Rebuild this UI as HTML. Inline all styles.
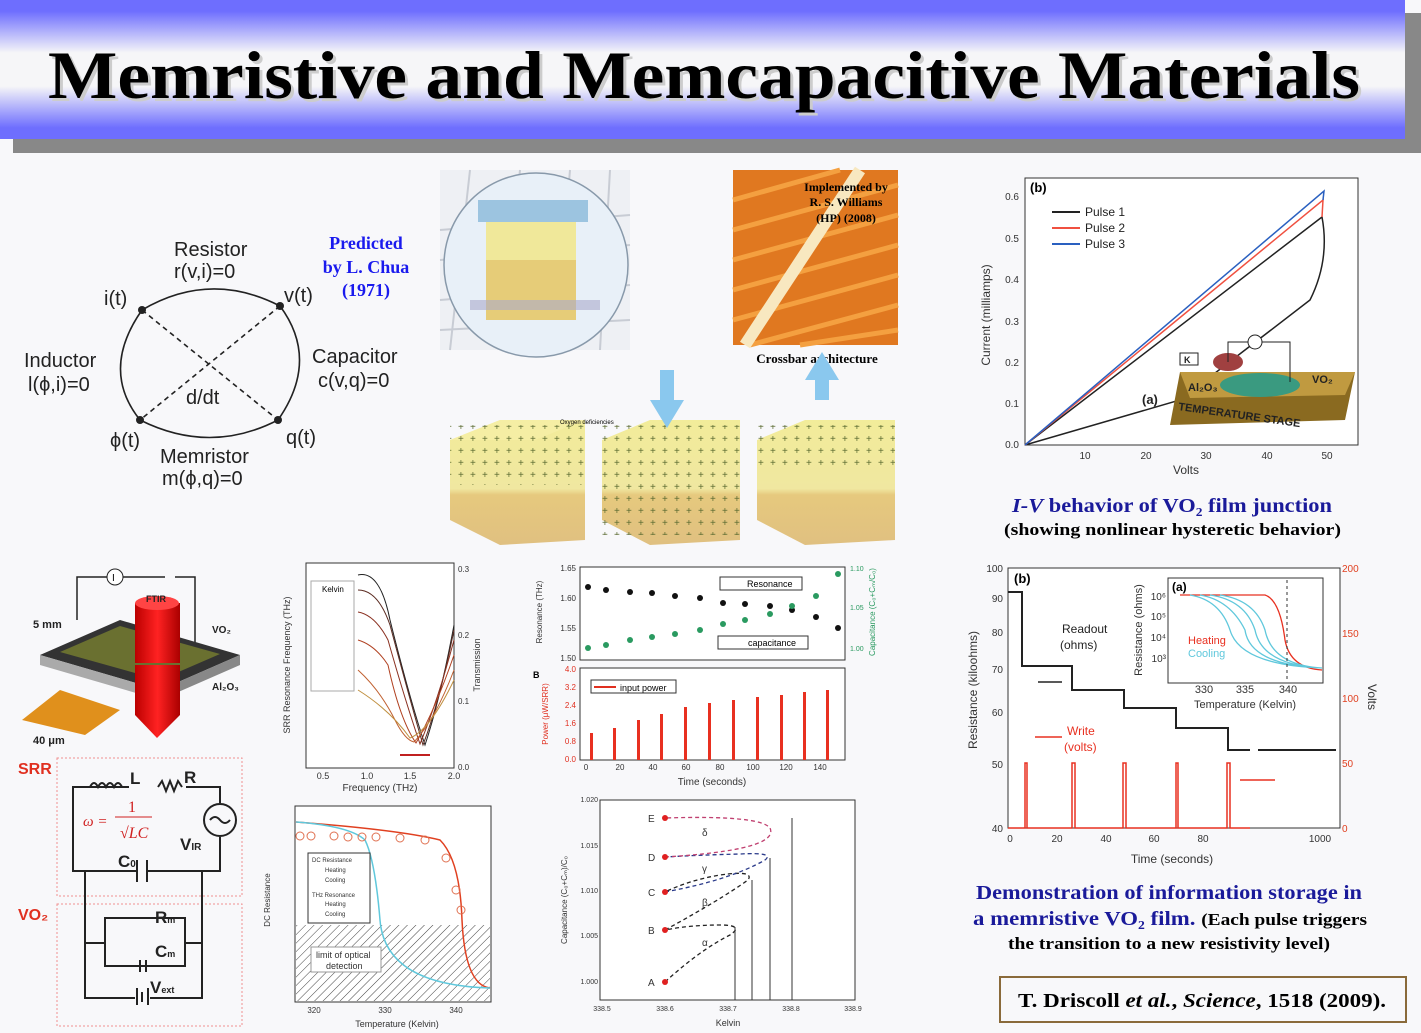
<!DOCTYPE html>
<html><head><meta charset="utf-8"><style>
html,body{margin:0;padding:0;background:#f8f8fa;}
svg{display:block;}
text{font-family:"Liberation Sans",sans-serif;}
.s{font-family:"Liberation Serif",serif;}
</style></head><body>
<svg width="1421" height="1033" viewBox="0 0 1421 1033" xmlns="http://www.w3.org/2000/svg">
<defs>
<linearGradient id="tb" x1="0" y1="0" x2="0" y2="1">
<stop offset="0" stop-color="#6e6efe"/><stop offset="0.08" stop-color="#6e6efe"/>
<stop offset="0.38" stop-color="#f6f6f8"/><stop offset="0.62" stop-color="#f6f6f8"/>
<stop offset="0.92" stop-color="#6e6efe"/><stop offset="1" stop-color="#6e6efe"/></linearGradient>
<linearGradient id="cube" x1="0" y1="0" x2="0" y2="1"><stop offset="0" stop-color="#f2ec9a"/><stop offset="0.55" stop-color="#f0e7a0"/><stop offset="0.6" stop-color="#e6c97e"/><stop offset="1" stop-color="#e0c080"/></linearGradient>
<linearGradient id="red" x1="0" y1="0" x2="1" y2="0"><stop offset="0" stop-color="#b00"/><stop offset="0.5" stop-color="#f22"/><stop offset="1" stop-color="#a00"/></linearGradient>
<pattern id="hatch" width="6" height="6" patternUnits="userSpaceOnUse" patternTransform="rotate(45)"><line x1="0" y1="0" x2="0" y2="6" stroke="#444" stroke-width="1"/></pattern>
<pattern id="plus" width="12" height="12" patternUnits="userSpaceOnUse"><text x="2" y="10" font-size="10" fill="#5a6a30">+</text></pattern>
</defs>
<!-- title -->
<rect x="13" y="139" width="1408" height="14" fill="#888"/>
<rect x="1405" y="13" width="16" height="140" fill="#888"/>
<rect x="0" y="0" width="1405" height="139" fill="url(#tb)"/>
<text x="48" y="98" textLength="1312" lengthAdjust="spacingAndGlyphs" class="s" font-size="68" font-weight="bold" fill="#ccc" transform="translate(3,3)">Memristive and Memcapacitive Materials</text>
<text x="48" y="98" textLength="1312" lengthAdjust="spacingAndGlyphs" class="s" font-size="68" font-weight="bold" fill="#000">Memristive and Memcapacitive Materials</text>

<!-- Chua diagram -->
<g font-size="20" fill="#222">
<text x="174" y="256">Resistor</text><text x="174" y="278">r(v,i)=0</text>
<text x="104" y="305">i(t)</text><text x="284" y="302">v(t)</text>
<text x="24" y="367">Inductor</text><text x="28" y="391">l(ϕ,i)=0</text>
<text x="312" y="363">Capacitor</text><text x="318" y="387">c(v,q)=0</text>
<text x="186" y="404">d/dt</text>
<text x="110" y="447">ϕ(t)</text><text x="286" y="444">q(t)</text>
<text x="160" y="463">Memristor</text><text x="162" y="485">m(ϕ,q)=0</text>
</g>
<g fill="none" stroke="#222" stroke-width="1.6">
<path d="M142 310 Q210 270 280 306"/><path d="M142 310 Q100 370 140 420"/><path d="M280 306 Q320 360 278 420"/><path d="M140 420 Q210 455 278 420"/>
<path d="M142 310 L278 420 M280 306 L140 420" stroke-dasharray="5,4"/></g>
<g fill="#222"><circle cx="142" cy="310" r="4"/><circle cx="280" cy="306" r="4"/><circle cx="140" cy="420" r="4"/><circle cx="278" cy="420" r="4"/></g>
<g class="s" font-size="18" font-weight="bold" fill="#1a1aee" text-anchor="middle">
<text x="366" y="249" class="s">Predicted</text><text x="366" y="273" class="s">by L. Chua</text><text x="366" y="296" class="s">(1971)</text></g>

<!-- crossbar image -->
<rect x="440" y="170" width="190" height="180" fill="#eef0f4"/>
<g stroke="#c8ccd4" stroke-width="2"><path d="M440 230 L630 215 M440 260 L630 245 M440 300 L630 285 M440 330 L630 320 M470 170 L450 350 M520 170 L500 350 M570 170 L555 350 M610 170 L600 350"/></g>
<circle cx="536" cy="265" r="92" fill="#e8f0f8" stroke="#89a" stroke-width="1.5"/>
<rect x="486" y="260" width="90" height="60" fill="#e6cc78"/>
<rect x="486" y="220" width="90" height="40" fill="#f0e89a"/>
<rect x="478" y="200" width="110" height="22" fill="#9cc4e0"/>
<rect x="470" y="300" width="130" height="10" fill="#aac" opacity="0.6"/>

<!-- orange image -->
<rect x="733" y="170" width="165" height="175" fill="#e07820"/>
<g stroke="#f4a040" stroke-width="5"><path d="M733 200 L840 170 M733 230 L898 185 M733 260 L898 215 M733 290 L898 245 M733 320 L898 275 M750 345 L898 305 M800 345 L898 330"/></g>
<path d="M860 170 L745 345" stroke="#f8e8c0" stroke-width="12"/>
<g class="s" font-size="12" font-weight="bold" fill="#000" text-anchor="middle">
<text x="846" y="191" class="s">Implemented by</text><text x="846" y="206" class="s">R. S. Williams</text><text x="846" y="222" class="s">(HP) (2008)</text>
<text x="817" y="363" class="s" font-size="13">Crossbar architecture</text></g>

<!-- cubes -->
<g>
<polygon points="450,440 500,420 585,420 585,540 500,545 450,520" fill="url(#cube)"/>
<polygon points="450,440 500,420 585,420 535,440" fill="#f6f0a8" opacity="0.7"/>
<rect x="450" y="425" width="135" height="60" fill="url(#plus)"/>
<polygon points="602,440 650,420 740,420 740,540 650,545 602,520" fill="url(#cube)"/>
<rect x="602" y="425" width="138" height="110" fill="url(#plus)"/>
<polygon points="757,440 805,420 895,420 895,540 805,545 757,520" fill="url(#cube)"/>
<rect x="757" y="425" width="138" height="40" fill="url(#plus)"/>
<path d="M660 370 h14 v30 h10 l-17 28 -17 -28 h10z" fill="#8ac8ee"/>
<path d="M815 400 h14 v-20 h10 l-17 -28 -17 28 h10z" fill="#8ac8ee"/>
<text x="560" y="424" font-size="6">Oxygen deficiencies</text>
</g>

<!-- I-V plot -->
<rect x="1025" y="178" width="333" height="267" fill="#fff" stroke="#333"/>
<g font-size="10" fill="#333" text-anchor="end">
<text x="1019" y="200">0.6</text><text x="1019" y="242">0.5</text><text x="1019" y="283">0.4</text><text x="1019" y="325">0.3</text><text x="1019" y="366">0.2</text><text x="1019" y="407">0.1</text><text x="1019" y="448">0.0</text></g>
<g font-size="10" fill="#333" text-anchor="middle"><text x="1085" y="459">10</text><text x="1146" y="459">20</text><text x="1206" y="459">30</text><text x="1267" y="459">40</text><text x="1327" y="459">50</text>
<text x="1186" y="474" font-size="12">Volts</text></g>
<text x="990" y="315" font-size="12" fill="#333" transform="rotate(-90 990 315)" text-anchor="middle">Current (milliamps)</text>
<text x="1030" y="192" font-size="13" font-weight="bold">(b)</text>
<g font-size="12" fill="#222"><path d="M1052 212 h28" stroke="#222" stroke-width="2"/><text x="1085" y="216">Pulse 1</text>
<path d="M1052 228 h28" stroke="#f05040" stroke-width="2"/><text x="1085" y="232">Pulse 2</text>
<path d="M1052 244 h28" stroke="#2a60c0" stroke-width="2"/><text x="1085" y="248">Pulse 3</text></g>
<g fill="none" stroke-width="1.5">
<path d="M1025 445 L1322 217 Q1330 260 1310 300 L1180 400 L1025 445" stroke="#222"/>
<path d="M1025 445 L1323 200 L1322 217" stroke="#f05040"/>
<path d="M1025 445 L1324 191 L1323 200" stroke="#2a60c0"/></g>
<polygon points="1180,372 1355,372 1345,420 1170,425" fill="#8a6a20"/>
<polygon points="1180,372 1355,372 1345,395 1190,398" fill="#c09a40"/>
<ellipse cx="1260" cy="385" rx="40" ry="12" fill="#3a9a80"/>
<ellipse cx="1228" cy="362" rx="15" ry="9" fill="#a04040"/>
<g font-size="11" font-weight="bold" fill="#222"><text x="1142" y="404" font-size="13">(a)</text><text x="1188" y="391">Al₂O₃</text><text x="1312" y="383">VO₂</text><text x="1178" y="410" transform="rotate(8 1178 410)">TEMPERATURE STAGE</text>
<rect x="1180" y="353" width="18" height="12" fill="#fff" stroke="#222"/><text x="1184" y="363" font-size="9">K</text></g>
<path d="M1228 362 V342 H1290 V382" fill="none" stroke="#222"/>
<circle cx="1255" cy="342" r="7" fill="#fff" stroke="#222"/>
<text x="1012" y="512" textLength="320" lengthAdjust="spacingAndGlyphs" class="s" font-size="20" font-weight="bold" fill="#1a1a9a"><tspan font-style="italic">I-V</tspan> behavior of VO₂ film junction</text>
<text x="1004" y="535" textLength="337" lengthAdjust="spacingAndGlyphs" class="s" font-size="17" font-weight="bold" fill="#000">(showing nonlinear hysteretic behavior)</text>

<!-- resistance plot -->
<rect x="1008" y="568" width="332" height="260" fill="#fff" stroke="#333"/>
<g font-size="10" fill="#333" text-anchor="end"><text x="1003" y="572">100</text><text x="1003" y="602">90</text><text x="1003" y="636">80</text><text x="1003" y="673">70</text><text x="1003" y="716">60</text><text x="1003" y="768">50</text><text x="1003" y="832">40</text></g>
<g font-size="10" fill="#e04020"><text x="1342" y="572">200</text><text x="1342" y="637">150</text><text x="1342" y="702">100</text><text x="1342" y="767">50</text><text x="1342" y="832">0</text></g>
<g font-size="10" fill="#333" text-anchor="middle"><text x="1010" y="842">0</text><text x="1057" y="842">20</text><text x="1106" y="842">40</text><text x="1154" y="842">60</text><text x="1203" y="842">80</text><text x="1320" y="842">1000</text><text x="1172" y="863" font-size="12">Time (seconds)</text></g>
<text x="977" y="690" font-size="12" fill="#333" transform="rotate(-90 977 690)" text-anchor="middle">Resistance (kiloohms)</text>
<text x="1368" y="697" font-size="12" fill="#333" transform="rotate(90 1368 697)" text-anchor="middle">Volts</text>
<text x="1014" y="583" font-size="13" font-weight="bold">(b)</text>
<path d="M1008 592 H1022 V666 H1072 V690 H1124 V708 H1176 V728 H1228 V750 H1250 M1258 750 H1336" fill="none" stroke="#222" stroke-width="2"/>
<g stroke="#e83020" stroke-width="1.5" fill="none"><path d="M1008 828 H1025 V763 H1027 V828 H1072 V763 H1075 V828 H1123 V763 H1126 V828 H1176 V763 H1178 V828 H1227 V763 H1230 V828 H1250"/><path d="M1035 737 H1062"/><path d="M1240 780 H1275"/></g>
<path d="M1038 682 H1062" stroke="#222" stroke-width="1.5"/>
<g font-size="12" fill="#222"><text x="1062" y="633">Readout</text><text x="1060" y="649">(ohms)</text></g>
<g font-size="12" fill="#e83020"><text x="1067" y="735">Write</text><text x="1064" y="751">(volts)</text></g>
<rect x="1168" y="578" width="155" height="105" fill="#fff" stroke="#333"/>
<text x="1172" y="591" font-size="12" font-weight="bold">(a)</text>
<g fill="none" stroke-width="1.3"><path d="M1180 595 H1265 Q1280 600 1285 640 Q1290 668 1322 670" stroke="#e83020"/>
<path d="M1190 595 Q1220 600 1230 630 Q1240 665 1322 668 M1200 595 Q1230 600 1245 630 Q1250 665 1322 668 M1210 595 Q1245 600 1255 630 Q1262 665 1322 668 M1220 595 Q1255 600 1265 630 Q1272 665 1322 668" stroke="#60c8dc"/></g>
<path d="M1287 580 V680" stroke="#333" stroke-dasharray="3,3"/>
<g font-size="11"><text x="1188" y="644" fill="#e83020">Heating</text><text x="1188" y="657" fill="#60c8dc">Cooling</text></g>
<g font-size="11" fill="#333" text-anchor="middle"><text x="1204" y="693">330</text><text x="1245" y="693">335</text><text x="1288" y="693">340</text><text x="1245" y="708">Temperature (Kelvin)</text></g>
<g font-size="10" fill="#333" text-anchor="end"><text x="1166" y="600">10⁶</text><text x="1166" y="620">10⁵</text><text x="1166" y="641">10⁴</text><text x="1166" y="662">10³</text></g>
<text x="1142" y="630" font-size="11" fill="#333" transform="rotate(-90 1142 630)" text-anchor="middle">Resistance (ohms)</text>
<g class="s" font-weight="bold">
<text x="976" y="899" textLength="386" lengthAdjust="spacingAndGlyphs" class="s" font-size="20" fill="#1a1a9a">Demonstration of information storage in</text>
<text x="973" y="925" textLength="394" lengthAdjust="spacingAndGlyphs" class="s" font-size="20" fill="#1a1a9a">a memristive VO₂ film. <tspan fill="#000" font-size="17">(Each pulse triggers</tspan></text>
<text x="1008" y="949" textLength="322" lengthAdjust="spacingAndGlyphs" class="s" font-size="17" fill="#000">the transition to a new resistivity level)</text></g>
<rect x="1000" y="977" width="406" height="45" fill="#f8f8fa" stroke="#8a6a3a" stroke-width="2"/>
<text x="1018" y="1007" textLength="368" lengthAdjust="spacingAndGlyphs" class="s" font-size="20" font-weight="bold" fill="#000">T. Driscoll <tspan font-style="italic">et al.</tspan>, <tspan font-style="italic">Science</tspan>, 1518 (2009).</text>

<!-- device bottom left -->
<path d="M77 620 V577 H165 M175 577 H195 V655" fill="none" stroke="#222" stroke-width="1.5"/>
<circle cx="115" cy="577" r="8" fill="#fff" stroke="#222"/><text x="112" y="581" font-size="10">I</text>
<polygon points="40,655 120,620 240,655 160,690" fill="#333"/>
<polygon points="40,655 160,690 160,700 40,665" fill="#aaa"/>
<polygon points="160,690 240,655 240,665 160,700" fill="#888"/>
<polygon points="60,652 120,626 220,654 160,680" fill="#6a7030"/>
<rect x="135" y="603" width="45" height="60" fill="url(#red)"/>
<ellipse cx="157" cy="603" rx="22" ry="7" fill="#f44"/>
<polygon points="135,665 180,665 180,715 157,738 135,715" fill="url(#red)"/>
<polygon points="22,720 60,690 120,710 85,735" fill="#e0901c"/>
<g font-size="11" fill="#222" font-weight="bold"><text x="33" y="628">5 mm</text><text x="146" y="602" font-size="9">FTIR</text><text x="212" y="633" font-size="10">VO₂</text><text x="212" y="690" font-size="10">Al₂O₃</text><text x="33" y="744">40 μm</text></g>
<rect x="57" y="758" width="185" height="138" fill="none" stroke="#f09090" stroke-dasharray="2,2"/>
<rect x="57" y="904" width="185" height="122" fill="none" stroke="#f09090" stroke-dasharray="2,2"/>
<text x="18" y="774" font-size="16" font-weight="bold" fill="#e03020">SRR</text>
<text x="18" y="920" font-size="16" font-weight="bold" fill="#e03020">VO₂</text>
<g fill="none" stroke="#222" stroke-width="2">
<path d="M129 787 H73 V871 H137 M147 871 H220 V837 M220 803 V787 H186"/><path d="M90 787 q4-8 8 0 q4-8 8 0 q4-8 8 0 q4-8 8 0"/><path d="M158 787 l4-6 4 10 4-10 4 10 4-10 4 6"/>
<path d="M137 860 V882 M147 860 V882"/><circle cx="220" cy="820" r="16"/><path d="M210 820 q5-6 10 0 q5 6 10 0"/>
<path d="M85 871 V998 H135 M150 998 H202 V871"/><path d="M85 943 H105 V918 H185 V943 H202 M105 943 V966 H185 V943"/>
<path d="M140 960 V972 M146 960 V972 M137 988 V1005 M142 992 V1002 M148 988 V1005"/></g>
<text x="83" y="826" class="s" font-size="15" font-style="italic" fill="#d02020">ω =</text>
<text x="128" y="812" class="s" font-size="16" fill="#d02020">1</text><path d="M115 817 H152" stroke="#d02020"/>
<text x="120" y="838" class="s" font-size="16" font-style="italic" fill="#d02020">√LC</text>
<g font-size="17" font-weight="bold" fill="#222"><text x="130" y="784">L</text><text x="184" y="783">R</text><text x="180" y="850">V<tspan font-size="10">IR</tspan></text><text x="118" y="867">C<tspan font-size="10">0</tspan></text><text x="155" y="923">R<tspan font-size="9">m</tspan></text><text x="155" y="957">C<tspan font-size="9">m</tspan></text><text x="150" y="993">V<tspan font-size="9">ext</tspan></text></g>

<!-- SRR plot -->
<rect x="306" y="563" width="148" height="205" fill="#fff" stroke="#333"/>
<rect x="311" y="581" width="43" height="110" fill="#fff" stroke="#aaa"/>
<text x="322" y="592" font-size="8">Kelvin</text>
<g fill="none" stroke-width="1">
<path d="M358 575 Q380 570 390 620 Q410 700 425 745 Q440 700 454 625" stroke="#222"/>
<path d="M358 590 Q378 590 390 625 Q410 700 423 745 Q440 700 454 630" stroke="#5a2a20"/>
<path d="M358 612 Q375 615 388 640 Q405 700 420 744 Q438 700 454 640" stroke="#8a3020"/>
<path d="M358 640 Q375 645 388 665 Q400 720 416 743 Q435 710 454 655" stroke="#b04020"/>
<path d="M358 670 Q380 690 395 720 Q405 740 414 742 Q435 720 454 670" stroke="#c06030"/>
<path d="M358 690 Q390 710 410 738 Q430 730 454 680" stroke="#c09040"/></g>
<path d="M400 755 H430" stroke="#c02020" stroke-width="2"/>
<g font-size="9" fill="#333" text-anchor="middle"><text x="323" y="779">0.5</text><text x="367" y="779">1.0</text><text x="410" y="779">1.5</text><text x="454" y="779">2.0</text><text x="380" y="791" font-size="10">Frequency (THz)</text></g>
<g font-size="8" fill="#333"><text x="458" y="572">0.3</text><text x="458" y="638">0.2</text><text x="458" y="704">0.1</text><text x="458" y="770">0.0</text></g>
<text x="290" y="665" font-size="9" transform="rotate(-90 290 665)" text-anchor="middle" fill="#333">SRR Resonance Frequency (THz)</text>
<text x="480" y="665" font-size="9" transform="rotate(-90 480 665)" text-anchor="middle" fill="#333">Transmission</text>

<!-- DC resistance plot -->
<rect x="295" y="806" width="196" height="196" fill="#fff" stroke="#333"/>
<rect x="296" y="925" width="194" height="76" fill="url(#hatch)"/>
<rect x="311" y="947" width="70" height="25" fill="#fff" stroke="#999"/>
<g font-size="9" fill="#333"><text x="316" y="958">limit of optical</text><text x="326" y="969">detection</text></g>
<path d="M296 822 Q400 830 440 840 Q460 860 462 920 Q465 985 490 988" fill="none" stroke="#e04020" stroke-width="1.5"/>
<path d="M296 822 Q350 826 365 840 Q375 860 380 920 Q385 985 490 988" fill="none" stroke="#60c8dc" stroke-width="1.5"/>
<g fill="none" stroke="#e07050"><circle cx="300" cy="836" r="4"/><circle cx="311" cy="836" r="4"/><circle cx="334" cy="836" r="4"/><circle cx="348" cy="837" r="4"/><circle cx="362" cy="837" r="4"/><circle cx="376" cy="837" r="4"/><circle cx="400" cy="838" r="4"/><circle cx="425" cy="840" r="4"/><circle cx="446" cy="858" r="4"/><circle cx="456" cy="890" r="4"/><circle cx="461" cy="910" r="4"/></g>
<rect x="308" y="853" width="62" height="70" fill="#fff" stroke="#333"/>
<g font-size="6" fill="#333"><text x="312" y="862">DC Resistance</text><text x="325" y="872">Heating</text><text x="325" y="882">Cooling</text><text x="312" y="897">THz Resonance</text><text x="325" y="906">Heating</text><text x="325" y="916">Cooling</text></g>
<g font-size="8" fill="#333" text-anchor="middle"><text x="314" y="1013">320</text><text x="385" y="1013">330</text><text x="456" y="1013">340</text><text x="397" y="1027" font-size="9">Temperature (Kelvin)</text></g>
<text x="270" y="900" font-size="8" transform="rotate(-90 270 900)" text-anchor="middle" fill="#333">DC Resistance</text>

<!-- resonance/capacitance plot -->
<rect x="580" y="567" width="265" height="93" fill="#fff" stroke="#333"/>
<g fill="#111"><circle cx="588" cy="587" r="3"/><circle cx="606" cy="590" r="3"/><circle cx="630" cy="592" r="3"/><circle cx="652" cy="593" r="3"/><circle cx="675" cy="596" r="3"/><circle cx="700" cy="598" r="3"/><circle cx="723" cy="603" r="3"/><circle cx="745" cy="604" r="3"/><circle cx="770" cy="606" r="3"/><circle cx="792" cy="610" r="3"/><circle cx="816" cy="617" r="3"/><circle cx="838" cy="628" r="3"/></g>
<g fill="#2a9a60"><circle cx="588" cy="648" r="3"/><circle cx="606" cy="645" r="3"/><circle cx="630" cy="640" r="3"/><circle cx="652" cy="637" r="3"/><circle cx="675" cy="634" r="3"/><circle cx="700" cy="630" r="3"/><circle cx="723" cy="624" r="3"/><circle cx="745" cy="620" r="3"/><circle cx="770" cy="614" r="3"/><circle cx="792" cy="606" r="3"/><circle cx="816" cy="596" r="3"/><circle cx="838" cy="574" r="3"/></g>
<rect x="720" y="577" width="82" height="13" fill="#fff" stroke="#333"/><text x="747" y="587" font-size="9">Resonance</text>
<rect x="718" y="636" width="90" height="13" fill="#fff" stroke="#333"/><text x="748" y="646" font-size="9">capacitance</text>
<g font-size="8" fill="#333" text-anchor="end"><text x="576" y="571">1.65</text><text x="576" y="601">1.60</text><text x="576" y="631">1.55</text><text x="576" y="661">1.50</text></g>
<g font-size="7" fill="#2a9a60"><text x="850" y="571">1.10</text><text x="850" y="610">1.05</text><text x="850" y="651">1.00</text></g>
<text x="542" y="612" font-size="8" transform="rotate(-90 542 612)" text-anchor="middle" fill="#333">Resonance (THz)</text>
<text x="875" y="612" font-size="8" transform="rotate(-90 875 612)" text-anchor="middle" fill="#2a9a60">Capacitance (C₀+Cₘ/C₀)</text>
<rect x="580" y="668" width="265" height="92" fill="#fff" stroke="#333"/>
<rect x="591" y="680" width="85" height="13" fill="#fff" stroke="#333"/><path d="M594 687 H616" stroke="#e03020" stroke-width="2"/><text x="620" y="691" font-size="9">input power</text>
<g fill="#e83020"><rect x="590" y="733" width="3" height="27"/><rect x="613" y="728" width="3" height="32"/><rect x="637" y="720" width="3" height="40"/><rect x="660" y="714" width="3" height="46"/><rect x="684" y="707" width="3" height="53"/><rect x="708" y="703" width="3" height="57"/><rect x="732" y="700" width="3" height="60"/><rect x="756" y="697" width="3" height="63"/><rect x="780" y="695" width="3" height="65"/><rect x="803" y="692" width="3" height="68"/><rect x="826" y="690" width="3" height="70"/></g>
<g font-size="8" fill="#e03020" text-anchor="end"><text x="576" y="672">4.0</text><text x="576" y="690">3.2</text><text x="576" y="708">2.4</text><text x="576" y="726">1.6</text><text x="576" y="744">0.8</text><text x="576" y="762">0.0</text></g>
<text x="548" y="714" font-size="8" transform="rotate(-90 548 714)" text-anchor="middle" fill="#e03020">Power (μW/SRR)</text>
<g font-size="8" fill="#333" text-anchor="middle"><text x="586" y="770">0</text><text x="620" y="770">20</text><text x="653" y="770">40</text><text x="686" y="770">60</text><text x="720" y="770">80</text><text x="753" y="770">100</text><text x="786" y="770">120</text><text x="820" y="770">140</text><text x="712" y="785" font-size="10">Time (seconds)</text></g>
<text x="533" y="678" font-size="9" font-weight="bold">B</text>

<!-- capacitance vs kelvin -->
<rect x="600" y="800" width="255" height="200" fill="#fff" stroke="#333"/>
<g fill="none" stroke-width="1.3" stroke-dasharray="4,3">
<path d="M665 982 Q700 950 730 935 Q745 925 720 925 Q690 925 665 930" stroke="#222"/>
<path d="M665 930 Q720 900 748 880 Q755 870 720 875 Q690 880 665 892" stroke="#222"/>
<path d="M665 892 Q730 880 765 860 Q775 852 740 854 Q700 855 665 857" stroke="#2a3a8a"/>
<path d="M665 857 Q780 850 770 828 Q760 815 665 818" stroke="#c04070"/></g>
<g stroke="#333"><path d="M735 927 V1000 M752 880 V1000 M770 858 V1000 M792 818 V1000"/></g>
<g fill="#e02020"><circle cx="665" cy="982" r="3"/><circle cx="665" cy="930" r="3"/><circle cx="665" cy="892" r="3"/><circle cx="665" cy="857" r="3"/><circle cx="665" cy="818" r="3"/></g>
<g font-size="10" fill="#333"><text x="648" y="986">A</text><text x="648" y="934">B</text><text x="648" y="896">C</text><text x="648" y="861">D</text><text x="648" y="822">E</text>
<text x="702" y="946">α</text><text x="702" y="906">β</text><text x="702" y="872">γ</text><text x="702" y="836">δ</text></g>
<g font-size="7" fill="#333" text-anchor="end"><text x="598" y="802">1.020</text><text x="598" y="848">1.015</text><text x="598" y="893">1.010</text><text x="598" y="938">1.005</text><text x="598" y="984">1.000</text></g>
<g font-size="7" fill="#333" text-anchor="middle"><text x="602" y="1011">338.5</text><text x="665" y="1011">338.6</text><text x="728" y="1011">338.7</text><text x="791" y="1011">338.8</text><text x="853" y="1011">338.9</text><text x="728" y="1026" font-size="9">Kelvin</text></g>
<text x="567" y="900" font-size="8" transform="rotate(-90 567 900)" text-anchor="middle" fill="#333">Capacitance (C₀+Cₘ)/C₀</text>
</svg>
</body></html>
